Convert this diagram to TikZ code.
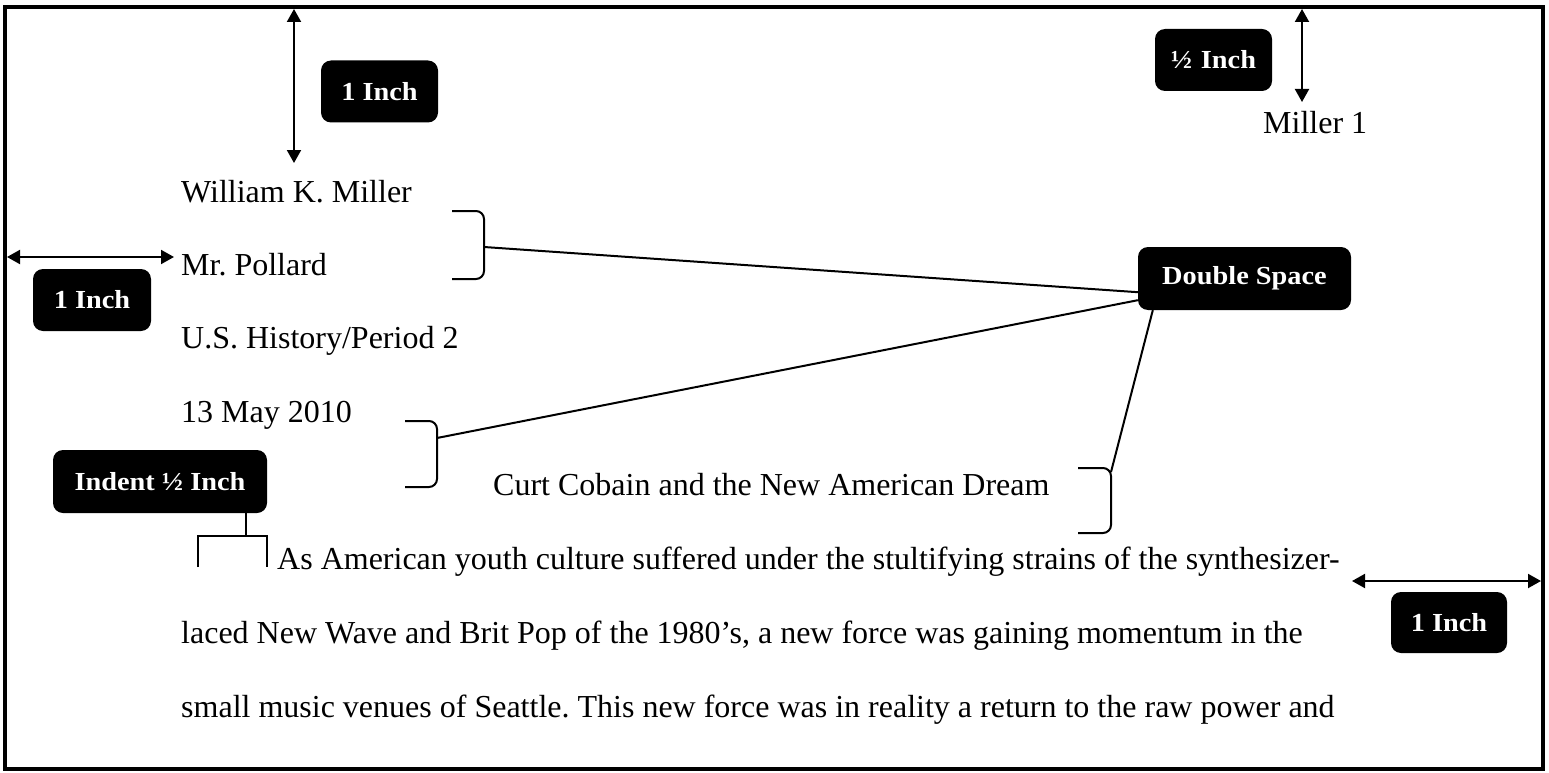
\documentclass[tikz,border=0pt]{standalone}
\usepackage{fontspec}
\setmainfont{Liberation Serif}
\newfontfamily\lblfont[FakeStretch=1.09]{Liberation Serif}
\usetikzlibrary{arrows.meta,calc}
\frenchspacing
\begin{document}
\frenchspacing
\begin{tikzpicture}[x=1pt,y=-1pt,
  lbl/.style={fill=black,text=white,rounded corners=10pt,
    font=\lblfont\fontsize{26}{30}\selectfont\bfseries,inner sep=0pt,
    minimum width=#1,minimum height=62pt},
  doc/.style={font=\fontsize{32}{38}\selectfont,inner sep=0pt,anchor=base west},
  conn/.style={line width=2pt},
  brk/.style={line width=2pt,rounded corners=8pt},
  dimarrow/.style={line width=2pt,{Triangle[length=13pt,width=14pt]}-{Triangle[length=13pt,width=14pt]}}
]
\useasboundingbox (0,0) rectangle (1549,773);
\fill[white] (0,0) rectangle (1549,773);
\draw[line width=4pt] (5,7) rectangle (1543,769);

% text
\node[doc] (name) at (181,202) {William K. Miller};
\node[doc] (teacher) at (181,275) {Mr. Pollard};
\node[doc] (course) at (181,348) {U.S. History/Period 2};
\node[doc] (date) at (181,422) {13 May 2010};
\node[doc] (title) at (493,495) {Curt Cobain and the New American Dream};
\node[doc] (body1) at (277,569) {As American youth culture suffered under the stultifying strains of the synthesizer-};
\node[doc] (body2) at (181,643) {laced New Wave and Brit Pop of the 1980’s, a new force was gaining momentum in the};
\node[doc] (body3) at (181,717) {small music venues of Seattle. This new force was in reality a return to the raw power and};
\node[doc] (header) at (1263,133) {Miller 1};

% labels
\node[lbl=117pt] (top1) at (379.5,91.5) {1 Inch};
\node[lbl=117pt] (half) at (1213.5,60) {½\,\,Inch};
\node[lbl=118pt] (left1) at (92,300) {1 Inch};
\node[lbl=213pt,minimum height=63pt] (dbl) at (1244.5,278.5) {Double Space};
\node[lbl=214pt,minimum height=63pt] (indent) at (160,481.5) {Indent ½ Inch};
\node[lbl=116pt,minimum height=61pt] (right1) at (1449,622.5) {1 Inch};

% dimension arrows
\coordinate (ta) at (294,9);   \coordinate (tb) at (294,163);
\coordinate (la) at (7,257);   \coordinate (lb) at (174,257);
\coordinate (ha) at (1302,9);  \coordinate (hb) at (1302,102);
\coordinate (ra) at (1352,581); \coordinate (rb) at (1541,581);
\draw[dimarrow] (ta) -- (tb);
\draw[dimarrow] (la) -- (lb);
\draw[dimarrow] (ha) -- (hb);
\draw[dimarrow] (ra) -- (rb);

% brackets
\draw[brk] (452,211) -- (484,211) -- (484,279) -- (452,279);
\coordinate (b1) at (484,247);
\draw[brk] (405,421) -- (437,421) -- (437,487) -- (405,487);
\coordinate (b2) at (437,438);
\draw[brk] (1078,468) -- (1111,468) -- (1111,533) -- (1078,533);
\coordinate (b3) at (1111,472);

% connectors to Double Space
\draw[conn] (b1) -- ($(dbl.south west)+(0,-18)$);
\draw[conn] (b2) -- ($(dbl.south west)+(0,-10)$);
\draw[conn] (b3) -- ($(dbl.south west)+(15,0)$);

% indent bracket
\coordinate (ic) at (246,536);
\draw[conn] (indent.south -| ic) -- (ic);
\draw[conn] (198,567) -- (198,536) -- (267,536) -- (267,567);
\end{tikzpicture}
\end{document}
